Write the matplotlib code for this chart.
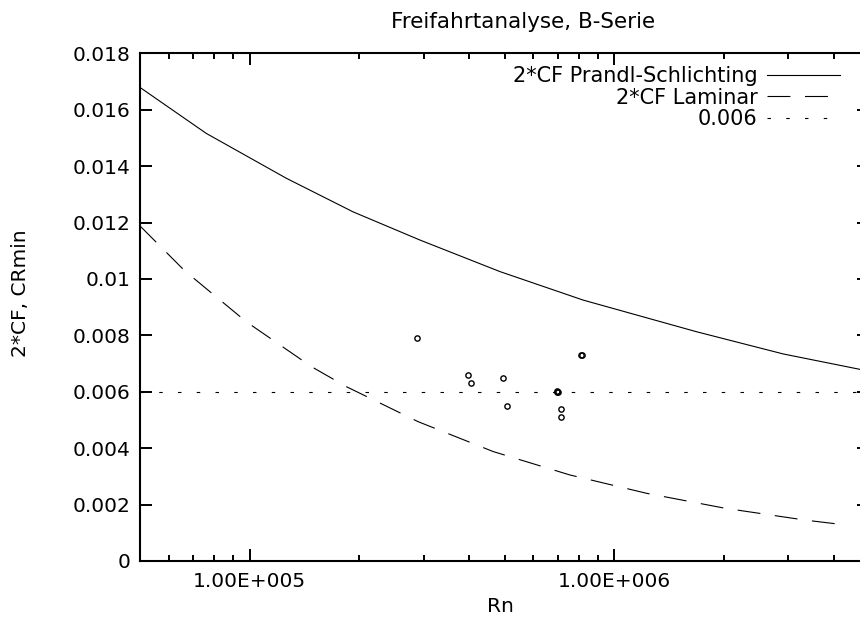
import matplotlib
matplotlib.use("Agg")
import matplotlib.pyplot as plt
from matplotlib.ticker import FixedLocator, LogLocator, FuncFormatter, NullFormatter

# Prandtl-Schlichting line (2*CF)
rn_ps = [5.0e4, 7.6e4, 1.26e5, 1.92e5, 2.93e5, 4.86e5, 8.22e5, 1.68e6, 2.91e6, 5.0e6]
cf_ps = [0.01679, 0.01516, 0.01357, 0.01238, 0.01138, 0.01026, 0.00925, 0.00813, 0.00734, 0.00673]

# laminar line (2*CF)
rn_lam = [5.0e4, 6.63e4, 9.79e4, 1.477e5, 1.842e5, 2.897e5, 4.655e5, 7.56e5, 1.227e6, 2.014e6, 3.34e6, 4.30e6]
cf_lam = [0.01188, 0.01029, 0.00848, 0.00689, 0.00618, 0.00494, 0.00388, 0.00305, 0.00240, 0.00187, 0.00145, 0.00128]

# constant reference
rn_ref = [5.0e4, 5.0e6]
cf_ref = [0.006, 0.006]

# measured CRmin points
rn_pts = [2.88e5, 3.97e5, 4.05e5, 4.96e5, 5.08e5, 6.95e5, 6.97e5, 7.0e5, 7.15e5, 7.13e5, 8.12e5, 8.15e5]
cr_pts = [0.0079, 0.0066, 0.0063, 0.0065, 0.00548, 0.0060, 0.00601, 0.0060, 0.0054, 0.0051, 0.0073, 0.00731]

y_ticks = [0, 0.002, 0.004, 0.006, 0.008, 0.01, 0.012, 0.014, 0.016, 0.018]
x_major = [1e5, 1e6]

plt.rcParams['font.family'] = ['DejaVu Sans']
plt.rcParams['lines.scale_dashes'] = False


def sci_label(v, pos):
    m, e = f"{v:.2E}".split("E")
    return f"{m}E{int(e):+04d}"


fig = plt.figure(figsize=(8.6, 6.24), dpi=100)
ax = fig.add_axes([140 / 860, 1 - 561 / 624, 729 / 860, 507.7 / 624])

ax.plot(rn_ps, cf_ps, color='black', lw=0.8, label='2*CF Prandl-Schlichting')
ax.plot(rn_lam, cf_lam, color='black', lw=0.8, dashes=(16.5, 10.5), label='2*CF Laminar')
ax.plot(rn_ref, cf_ref, color='black', lw=0.8, dashes=(2.5, 11), label='0.006')
ax.plot(rn_pts, cr_pts, ls='none', marker='o', ms=3.8, mfc='none', mec='black', mew=1.0)

ax.set_xscale('log')
ax.set_xlim(5e4, 5e6)
ax.set_ylim(0, 0.018)

ax.xaxis.set_major_locator(FixedLocator(x_major))
ax.xaxis.set_major_formatter(FuncFormatter(sci_label))
ax.xaxis.set_minor_locator(LogLocator(base=10, subs=[2, 3, 4, 5, 6, 7, 8, 9]))
ax.xaxis.set_minor_formatter(NullFormatter())
ax.yaxis.set_major_locator(FixedLocator(y_ticks))
ax.yaxis.set_major_formatter(FuncFormatter(lambda v, p: f"{round(v, 4):g}"))

ax.tick_params(which='both', direction='in', top=True, right=True, width=1.4, labelsize=14.5)
ax.tick_params(which='major', length=8.6)
ax.tick_params(which='minor', length=4.3)
ax.tick_params(axis='y', pad=7)
ax.tick_params(axis='x', pad=8)
for s in ax.spines.values():
    s.set_linewidth(1.5)

ax.set_xlabel('Rn', fontsize=14.5)
ax.xaxis.set_label_coords(0.494, -0.071)
ax.set_ylabel('2*CF, CRmin', fontsize=14.5)
ax.yaxis.set_label_coords(-0.151, 0.528)

fig.text(523 / 860, 1 - 28.3 / 624, 'Freifahrtanalyse, B-Serie', ha='center', va='baseline', fontsize=15.5)

ax.legend(loc='upper right', bbox_to_anchor=(840 / 860, 1 - 66 / 624), bbox_transform=fig.transFigure,
          frameon=False, markerfirst=False, fontsize=15, labelspacing=0.08, handlelength=3.5,
          handletextpad=0.45, borderpad=0, borderaxespad=0)

fig.savefig('out.png', dpi=100)
